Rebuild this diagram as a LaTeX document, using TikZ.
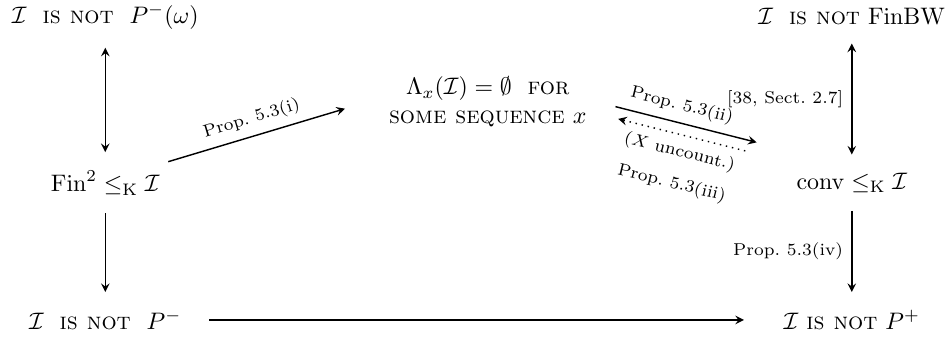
\documentclass[tikz,border=0pt]{standalone}
\usepackage{amsmath, amssymb}
\usepackage{tikz}

\begin{document}
\begin{tikzpicture}[>=stealth,line width=0.6pt,lbl/.style={font=\fontsize{7.2}{9.5}\selectfont}]
        \useasboundingbox (0,0) rectangle (14,4.96);
        % left column
        \node (topL) at (1.55,4.71) {$\mathcal{I}$ \ \textsc{is not} \ $P^-(\omega)$};
        \node (midL) at (1.55,2.27) {$\mathrm{Fin}^2\leq_{\mathrm{K}}\mathcal{I}$};
        \node (botL) at (1.55,0.25) {$\mathcal{I}$ \ \textsc{is not} \ $P^-$};
        % right column
        \node (topR) at (12.54,4.71) {$\mathcal{I}$ \ \textsc{is not} $\mathrm{FinBW}$};
        \node (midR) at (12.54,2.27) {$\mathrm{conv}\leq_{\mathrm{K}}\mathcal{I}$};
        \node (botR) at (12.54,0.25) {$\mathcal{I}$ \textsc{is not} $P^+$};
        % middle
        \node[align=center] (mid) at (7.18,3.46) {$\Lambda_x(\mathcal{I})=\emptyset$ \ \textsc{for}\\ \textsc{some sequence} $x$};
        % vertical arrows
        \draw[<->,shorten >=4pt,shorten <=4pt] (topL) -- (midL);
        \draw[->,shorten >=4pt,shorten <=4pt] (midL) -- (botL);
        \draw[<->,shorten >=4pt,shorten <=4pt] (topR) -- (midR) node[midway,left,lbl] {[38, Sect.~2.7]};
        \draw[->,shorten >=4pt,shorten <=4pt] (midR) -- (botR) node[midway,left,lbl] {Prop.~5.3(iv)};
        % bottom
        \draw[->,shorten >=13pt,shorten <=8pt] (botL) -- (botR);
        % diagonals
        \draw[->] (midL.north east) -- ([xshift=-0.52cm,yshift=-0.1cm]mid.west) node[midway,above,sloped,lbl] {Prop.~5.3(i)};
        \draw[->] ([xshift=0.3cm,yshift=-0.07cm]mid.east) -- ([xshift=-0.46cm,yshift=0.32cm]midR.north west) node[pos=0.44,above,sloped,lbl] {Prop.~5.3(ii)};
        \draw[<-,dotted] ([xshift=0.34cm,yshift=-0.25cm]mid.east) -- ([xshift=-0.57cm,yshift=0.18cm]midR.north west) node[midway,below,sloped,align=center,lbl] {($X$ uncount.)\\[4pt] Prop.~5.3(iii)};
      \end{tikzpicture}
\end{document}
